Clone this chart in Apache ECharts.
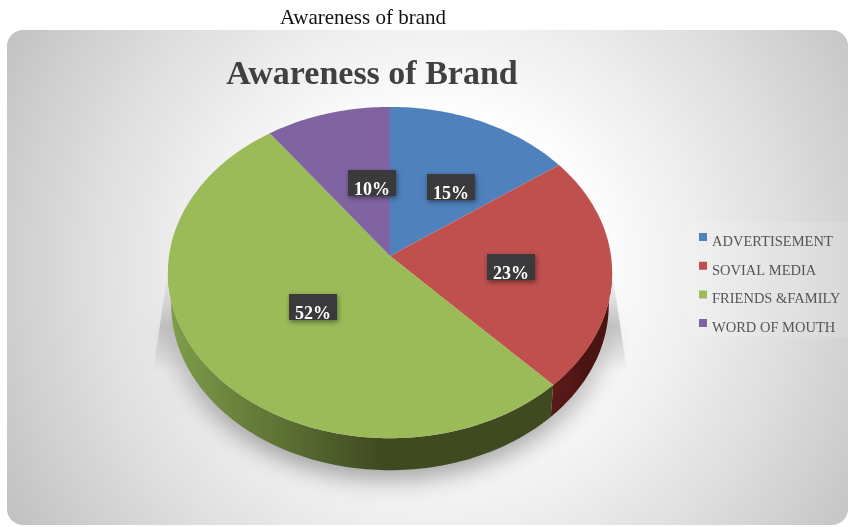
<!DOCTYPE html>
<html>
<head>
<meta charset="utf-8">
<style>html,body{margin:0;padding:0;background:#fff}#chart{width:849px;height:527px}</style>
<script src="https://cdn.jsdelivr.net/npm/echarts@6/dist/echarts.min.js"></script>
</head>
<body>
<div id="chart"></div>
<script>
// Share of respondents by the way they became aware of the brand (percent)
const categories = ['ADVERTISEMENT', 'SOVIAL MEDIA', 'FRIENDS &FAMILY', 'WORD OF MOUTH'];
const shares = [15, 23, 52, 10];

const topColors = ['#4f81bd', '#c0504d', '#9bbb59', '#8064a2'];
const wallColors = [
  ['#2f4f75', '#2f4f75'],
  ['#611d1c', '#4a1413'],
  ['#7f9e4a', '#3f4a21'],
  ['#4d3c63', '#4d3c63']
];
// Centres of the dark value tags, in page pixels
const tagCentres = [[451, 187], [511, 267], [313, 307], [372, 183]];

// Tilted-disc projection: a unit circle seen in perspective
const disc = { cx: 390, cy: 256, a: 221, b: 164, k: -0.1, depth: 32, shrink: 0.985 };
const total = shares.reduce((s, v) => s + v, 0);

function project(theta, radius) {
  const u = Math.sin(theta) * radius;
  const v = -Math.cos(theta) * radius;
  const w = 1 + disc.k * v;
  return [disc.cx + disc.a * u / w, disc.cy + disc.b * v / w];
}
function ringAngles(from, to) {
  const steps = Math.max(2, Math.ceil((to - from) / 0.02));
  const list = [];
  for (let i = 0; i <= steps; i++) list.push(from + (to - from) * i / steps);
  return list;
}
const FRONT_FROM = 1.67, FRONT_TO = 4.61;

function renderSlice(params, api) {
  const start = api.value(0) / total * Math.PI * 2;
  const end = (api.value(0) + api.value(1)) / total * Math.PI * 2;
  const i = params.seriesIndex;
  const children = [];

  const wFrom = Math.max(start, FRONT_FROM), wTo = Math.min(end, FRONT_TO);
  if (wTo > wFrom) {
    const angles = ringAngles(wFrom, wTo);
    const upper = angles.map(t => project(t, 1));
    const lower = angles.slice().reverse().map(t => {
      const p = project(t, 1);
      return [disc.cx + (p[0] - disc.cx) * disc.shrink, p[1] + disc.depth];
    });
    children.push({
      type: 'polygon',
      z2: 1,
      shape: { points: upper.concat(lower) },
      style: {
        fill: {
          type: 'linear', x: 0, y: 0, x2: 1, y2: 0,
          colorStops: [
            { offset: 0, color: wallColors[i][0] },
            { offset: 0.55, color: wallColors[i][1] },
            { offset: 1, color: wallColors[i][1] }
          ]
        },
        shadowBlur: 26,
        shadowOffsetY: 8,
        shadowColor: 'rgba(0,0,0,0.38)'
      }
    });
  }

  const rim = ringAngles(start, end).map(t => project(t, 1));
  children.push({
    type: 'polygon',
    z2: 5,
    shape: { points: [project(0, 0)].concat(rim) },
    style: { fill: topColors[i] }
  });

  const [tx, ty] = tagCentres[i];
  children.push({
    type: 'rect',
    z2: 8,
    shape: { x: tx - 24, y: ty - 13, width: 48, height: 26 },
    style: { fill: '#3a3a3c', shadowBlur: 5, shadowOffsetX: 1, shadowOffsetY: 2, shadowColor: 'rgba(0,0,0,0.45)' }
  });
  children.push({
    type: 'text',
    z2: 9,
    style: {
      x: tx, y: ty + 7,
      text: api.value(1) + '%',
      fill: '#ffffff',
      font: 'bold 18px "Liberation Serif"',
      align: 'center',
      verticalAlign: 'middle'
    }
  });
  return { type: 'group', children };
}

let running = 0;
const series = categories.map((name, i) => {
  const item = [running, shares[i]];
  running += shares[i];
  return {
    type: 'custom',
    name,
    coordinateSystem: 'none',
    renderItem: renderSlice,
    itemStyle: { color: topColors[i] },
    data: [item],
    silent: true,
    animation: false
  };
});

const chart = echarts.init(document.getElementById('chart'), null, { renderer: 'canvas' });
chart.setOption({
  animation: false,
  backgroundColor: '#ffffff',
  title: [
    {
      text: 'Awareness of brand', left: 358, top: 3, textAlign: 'center',
      textStyle: { fontFamily: 'Liberation Serif', fontWeight: 'normal', fontSize: 21, color: '#111111' }
    },
    {
      text: 'Awareness of Brand', left: 367, top: 53, textAlign: 'center',
      textStyle: { fontFamily: 'Liberation Serif', fontWeight: 'bold', fontSize: 34, color: '#404040' }
    }
  ],
  legend: {
    orient: 'vertical', left: 694, top: 228,
    // Square swatch sitting in the upper part of a taller key, so it rides above the text
    icon: 'path://M0,0H8V8H0Z M4,18L4,18Z',
    itemWidth: 8, itemHeight: 18, itemGap: 10.7, selectedMode: false,
    data: categories,
    textStyle: { fontFamily: 'Liberation Serif', fontSize: 14.5, color: '#555555' }
  },
  graphic: [
    {
      type: 'rect', z: -10,
      shape: { x: 7, y: 30, width: 841, height: 495, r: 16 },
      style: {
        fill: {
          type: 'radial', x: 0.515, y: 0.485, r: 1,
          colorStops: [
            { offset: 0, color: '#ffffff' },
            { offset: 0.3, color: '#ffffff' },
            { offset: 0.52, color: '#eeeeee' },
            { offset: 0.72, color: '#dddddd' },
            { offset: 1, color: '#c2c2c2' }
          ]
        }
      }
    },
    // Lighter panel behind the legend
    {
      type: 'rect', z: -9,
      shape: { x: 690, y: 222, width: 158, height: 115 },
      style: { fill: 'rgba(255,255,255,0.12)' }
    },
    // Soft floor reflection under the disc
    {
      type: 'polygon', z: -8,
      shape: { points: [[168, 270], [612, 270], [627, 372], [153, 372]] },
      style: {
        fill: {
          type: 'linear', x: 0, y: 0, x2: 0, y2: 1,
          colorStops: [
            { offset: 0, color: 'rgba(190,190,190,0.05)' },
            { offset: 0.55, color: 'rgba(185,185,185,0.75)' },
            { offset: 1, color: 'rgba(190,190,190,0)' }
          ]
        }
      }
    }
  ],
  series
});
</script>
</body>
</html>
